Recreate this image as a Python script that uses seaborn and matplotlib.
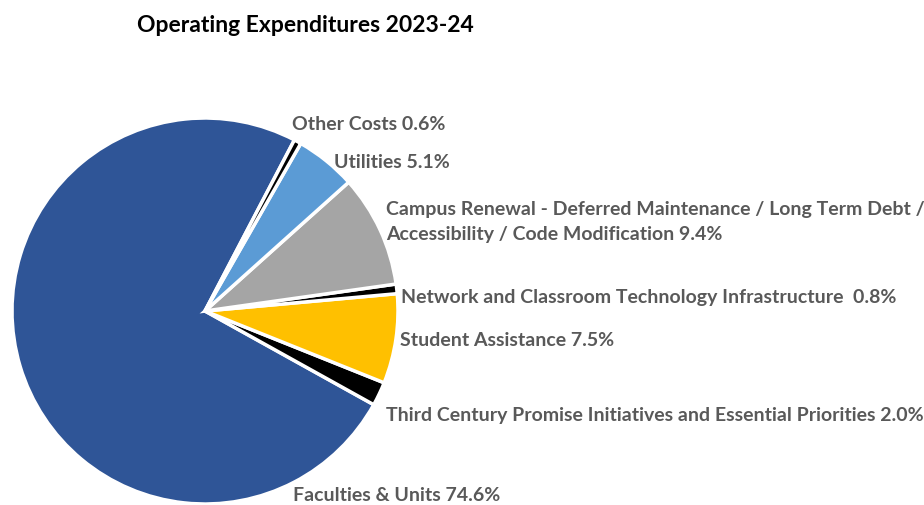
import seaborn as sns
import matplotlib.pyplot as plt

# data (clockwise in the picture, drawn counterclockwise here)
categories = [
    "Faculties & Units",
    "Third Century Promise Initiatives and Essential Priorities",
    "Student Assistance",
    "Network and Classroom Technology Infrastructure ",
    "Campus Renewal - Deferred Maintenance / Long Term Debt /\nAccessibility / Code Modification",
    "Utilities",
    "Other Costs",
]
shares = [74.6, 2.0, 7.5, 0.8, 9.4, 5.1, 0.6]
colors = ["#2F5597", "#000000", "#FFC000", "#000000", "#A5A5A5", "#5B9BD5", "#000000"]

# label anchors (left edge, centre y) in pixels from top-left
label_pos = [(293, 496), (386, 416), (400, 340), (401, 297), (386, 222), (334, 163), (292, 124)]

sns.set_theme(style="white")
plt.rcParams["font.family"] = ["Lato", "DejaVu Sans"]

W, H = 924, 506
fig = plt.figure(figsize=(W / 100, H / 100), dpi=100)
ax = fig.add_axes([0, 0, 1, 1])

ax.pie(
    shares,
    colors=sns.color_palette(colors),
    startangle=62.4,
    counterclock=True,
    center=(205, H - 312),
    radius=193,
    wedgeprops=dict(edgecolor="white", linewidth=2.5),
)

for cat, val, (x, y) in zip(categories, shares, label_pos):
    ax.text(x, H - y, f"{cat} {val:.1f}%", ha="left", va="center",
            fontsize=14, fontweight="bold", color="#595959", linespacing=1.6)

ax.text(305, H - 25, "Operating Expenditures 2023-24", ha="center", va="center",
        fontsize=16.5, fontweight="bold", color="black")

ax.set_xlim(0, W)
ax.set_ylim(0, H)
ax.set_aspect("equal")
ax.axis("off")

fig.savefig("out.png", dpi=100)
